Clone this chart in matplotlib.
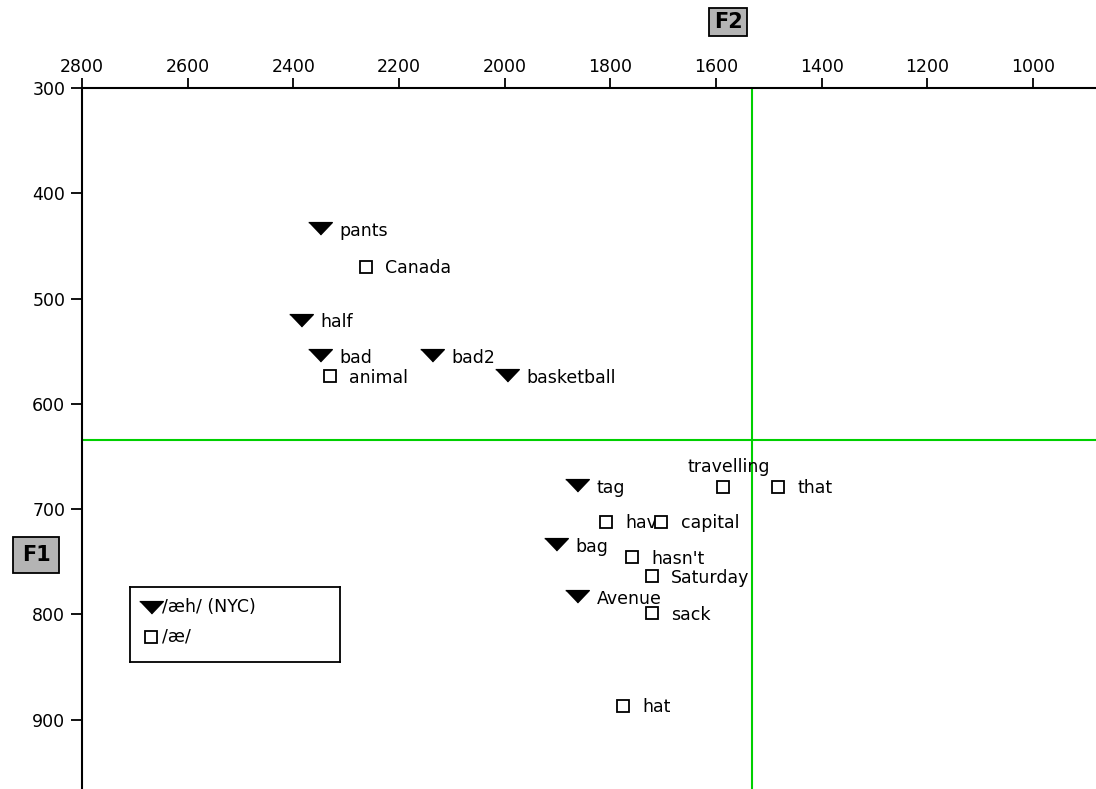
import matplotlib
matplotlib.use("Agg")
import matplotlib.pyplot as plt

# /aeh/ tokens (NYC), F2 and F1 in Hz
words_aeh = ["pants", "half", "bad", "bad2", "basketball", "tag", "bag", "Avenue"]
f2_aeh = [2350, 2386, 2350, 2138, 1996, 1863, 1903, 1863]
f1_aeh = [433, 520, 554, 554, 573, 677, 733, 783]

# /ae/ tokens
words_ae = ["Canada", "animal", "travelling", "that", "have", "capital",
            "hasn't", "Saturday", "sack", "hat"]
f2_ae = [2263, 2331, 1587, 1483, 1808, 1704, 1759, 1722, 1722, 1776]
f1_ae = [470, 574, 679, 679, 712, 712, 746, 764, 799, 887]

# mean lines
f2_mean, f1_mean = 1532, 634

x_ticks = list(range(2800, 999, -200))
y_ticks = list(range(300, 901, 100))

legend_labels = ["/æh/ (NYC)", "/æ/"]

plt.rcParams["font.family"] = ["DejaVu Sans"]
fs = 12.5

fig = plt.figure(figsize=(10.96, 7.89), dpi=100)
ax = fig.add_axes([82 / 1096, 0, 1 - 82 / 1096, (789 - 88) / 789])

tri = [(-1, 0.5), (1, 0.5), (0, -0.55)]
tri_style = dict(ls="none", marker=tri, ms=17, color="black")
sq_style = dict(ls="none", marker="s", ms=8, mfc="white", mec="black", mew=1.3)

ax.axvline(f2_mean, color="#00d000", lw=1.5, zorder=1)
ax.axhline(f1_mean, color="#00d000", lw=1.5, zorder=1)

ax.plot(f2_aeh, f1_aeh, zorder=4, **tri_style)
ax.plot(f2_ae, f1_ae, zorder=4, **sq_style)

for w, x, y in zip(words_aeh, f2_aeh, f1_aeh):
    ax.annotate(w, (x, y), xytext=(14, -2), textcoords="offset points",
                ha="left", va="center", fontsize=fs, zorder=3)
for w, x, y in zip(words_ae, f2_ae, f1_ae):
    if w == "travelling":
        ax.annotate(w, (x, y), xytext=(4, 14), textcoords="offset points",
                    ha="center", va="center", fontsize=fs, zorder=3)
    else:
        ax.annotate(w, (x, y), xytext=(14, -1), textcoords="offset points",
                    ha="left", va="center", fontsize=fs, zorder=3)

ax.set_xlim(2800, 881)
ax.set_ylim(966, 300)
ax.set_xticks(x_ticks)
ax.set_yticks(y_ticks)
ax.xaxis.tick_top()
ax.tick_params(axis="both", direction="out", length=7, width=1.3,
               labelsize=fs, pad=2)
ax.tick_params(axis="y", length=8, pad=4)
for s in ["right", "bottom"]:
    ax.spines[s].set_visible(False)
for s in ["left", "top"]:
    ax.spines[s].set_linewidth(1.5)

# boxed axis names
fig.text(728 / 1096, 1 - 22 / 789, "F2", ha="center", va="center",
         fontsize=15, fontweight="bold",
         bbox=dict(boxstyle="square,pad=0.2", fc="#b4b4b4", ec="black", lw=1.3))
fig.text(36 / 1096, 1 - 555 / 789, "F1", ha="center", va="center",
         fontsize=15, fontweight="bold",
         bbox=dict(boxstyle="square,pad=0.4", fc="#b4b4b4", ec="black", lw=1.3))

# key box
lax = fig.add_axes([130 / 1096, 1 - 662 / 789, 210 / 1096, 75 / 789])
lax.set_xlim(0, 1)
lax.set_ylim(0, 1)
lax.set_xticks([])
lax.set_yticks([])
for s in lax.spines.values():
    s.set_linewidth(1.3)
lax.plot([0.1], [0.74], **tri_style)
lax.plot([0.1], [0.34], **sq_style)
lax.text(0.15, 0.74, legend_labels[0], ha="left", va="center", fontsize=fs)
lax.text(0.15, 0.34, legend_labels[1], ha="left", va="center", fontsize=fs)

fig.savefig("out.png", dpi=100)
